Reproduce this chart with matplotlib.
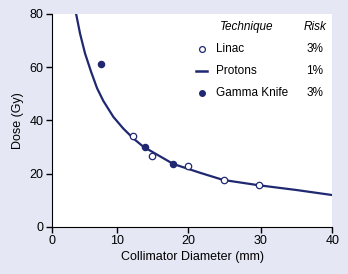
import numpy as np
import matplotlib.pyplot as plt

# Значения
linac_x = [12.3, 14.9, 20.0, 24.9, 29.8]
linac_y = [34.2, 26.7, 22.8, 17.6, 15.7]

gamma_x = [7.6, 14.0, 17.8]
gamma_y = [61.2, 29.8, 23.5]

# Кривая Protons (точки вдоль линии)
protons_x = [3.74, 4.35, 5.12, 6.05, 6.97, 7.94, 9.48, 10.92, 12.32, 13.71, 17.9, 21.6, 24.8, 29.7, 35.0, 40.0]
protons_y = [80.2, 72.7, 65.2, 58.3, 52.1, 47.3, 41.3, 36.9, 33.2, 30.1, 23.6, 20.3, 17.6, 15.6, 13.8, 11.9]

x_ticks = [0, 10, 20, 30, 40]
# на исходном рисунке деления оси X стоят неравномерно
x_tick_pos = [0, 9.27, 19.47, 29.79, 40]

legend_rows = ["Linac", "Protons", "Gamma Knife"]
legend_risk = ["3%", "1%", "3%"]

navy = "#1f2870"
bg = "#e5e7f4"


def fwd(x):
    return np.interp(x, x_ticks, x_tick_pos)


def inv(x):
    return np.interp(x, x_tick_pos, x_ticks)


plt.rcParams['font.family'] = ['Liberation Sans', 'DejaVu Sans']

fig = plt.figure(figsize=(3.48, 2.74), dpi=100, facecolor=bg)
ax = fig.add_axes([0.1486, 0.1726, 0.8063, 0.7764])
ax.set_facecolor("white")
ax.set_xscale('function', functions=(fwd, inv))

ax.plot(protons_x, protons_y, color=navy, lw=1.6, zorder=2, solid_joinstyle='round')
ax.plot(linac_x, linac_y, "o", ms=4.6, mfc="white", mec=navy, mew=0.9, zorder=3)
ax.plot(gamma_x, gamma_y, "o", ms=4.4, color=navy, zorder=3)

ax.set_xlim(0, 40)
ax.set_ylim(0, 80)
ax.set_xticks(x_ticks)
ax.set_xticklabels([str(v) for v in x_ticks])
ax.set_xticks([], minor=True)
ax.set_yticks([0, 20, 40, 60, 80])
ax.spines['top'].set_visible(False)
ax.spines['right'].set_visible(False)
ax.tick_params(direction='out', length=4, width=1, labelsize=9, pad=2)
ax.set_xlabel("Collimator Diameter (mm)", fontsize=9, labelpad=3)
ax.set_ylabel("Dose (Gy)", fontsize=9, labelpad=4)

# Легенда в виде таблицы
t = ax.transAxes
ax.text(0.694, 0.939, "Technique", style="italic", fontsize=8.5, ha="center", va="center", transform=t)
ax.text(0.979, 0.939, "Risk", style="italic", fontsize=8.5, ha="right", va="center", transform=t)
row_y = [0.835, 0.732, 0.629]
ax.plot([0.534], [row_y[0]], "o", ms=4.2, mfc="white", mec=navy, mew=0.9, transform=t, clip_on=False)
ax.plot([0.513, 0.555], [row_y[1]] * 2, color=navy, lw=1.8, transform=t, clip_on=False)
ax.plot([0.534], [row_y[2]], "o", ms=4.0, color=navy, transform=t, clip_on=False)
for name, risk, yy in zip(legend_rows, legend_risk, row_y):
    ax.text(0.587, yy, name, fontsize=8.5, ha="left", va="center", transform=t)
    ax.text(0.968, yy, risk, fontsize=8.5, ha="right", va="center", transform=t)

fig.savefig("out.png", dpi=100, facecolor=bg)
